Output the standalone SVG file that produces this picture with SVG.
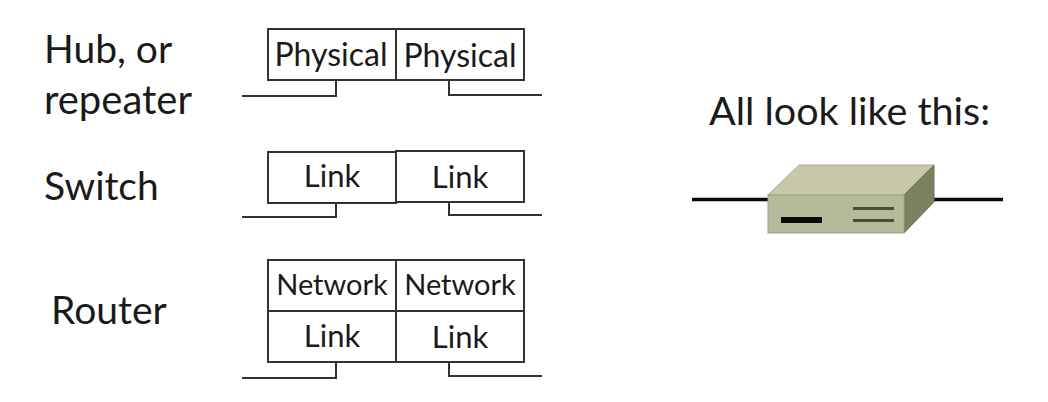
<svg xmlns="http://www.w3.org/2000/svg" width="1048" height="402" viewBox="0 0 1048 402">
<style>
text{font-family:Lato,"Open Sans",sans-serif;fill:#1a1a1a}
.h{font-size:39px}
.p{font-size:32px;text-anchor:middle}
.n{font-size:29px;text-anchor:middle}
.l{font-size:31px;text-anchor:middle}
.b{fill:#fff;stroke:#333;stroke-width:2}
.w{fill:none;stroke:#333;stroke-width:2}
</style>
<rect width="1048" height="402" fill="#fff"/>
<g id="labels">
<text class="h" x="44" y="63">Hub, or</text>
<text class="h" x="44" y="114" style="font-size:40px">repeater</text>
<text class="h" x="44" y="200">Switch</text>
<text class="h" x="51" y="324">Router</text>
<text x="709" y="125" style="font-size:39.500px">All look like this:</text>
</g>
<g id="hub">
<rect class="b" x="268" y="29" width="128" height="51"/>
<rect class="b" x="396" y="29" width="128" height="51"/>
<text class="p" x="331" y="66">Physical</text>
<text class="p" x="460" y="67">Physical</text>
</g>
<g id="switch">
<rect class="b" x="268" y="152" width="128" height="51"/>
<rect class="b" x="396" y="151" width="128" height="51"/>
<text class="l" x="332" y="187">Link</text>
<text class="l" x="460" y="188">Link</text>
</g>
<g id="router">
<rect class="b" x="268" y="260" width="128" height="51"/>
<rect class="b" x="396" y="260" width="128" height="51"/>
<rect class="b" x="268" y="311" width="128" height="51"/>
<rect class="b" x="396" y="311" width="128" height="51"/>
<text class="n" x="332" y="295">Network</text>
<text class="n" x="460" y="295">Network</text>
<text class="l" x="332" y="347">Link</text>
<text class="l" x="460" y="348">Link</text>
</g>
<g id="connectors">
<path class="w" d="M242 96H336V80M449 80V95H542"/>
<path class="w" d="M242 217H336V203M449 202V215H542"/>
<path class="w" d="M242 378H336V362M449 362V376H542"/>
</g>
<g id="device">
<path d="M692 199.500H768M928 199.500H1003" stroke="#0a0a0a" stroke-width="3.500" fill="none"/>
<polygon points="768,195 799,165 934,165 904,195" fill="#c6c8a9" stroke="#a9ab8e"/>
<polygon points="904,195 934,165 934,202 904,233" fill="#7c7f60" stroke="#6f7257"/>
<rect x="768" y="195" width="136" height="38" fill="#b7b99b" stroke="#a2a488"/>
<rect x="781" y="217" width="41" height="6" fill="#0a0a0a"/>
<rect x="853" y="207" width="41" height="3" fill="#4c4e38"/>
<rect x="853" y="219" width="41" height="3" fill="#4c4e38"/>
</g>
</svg>
